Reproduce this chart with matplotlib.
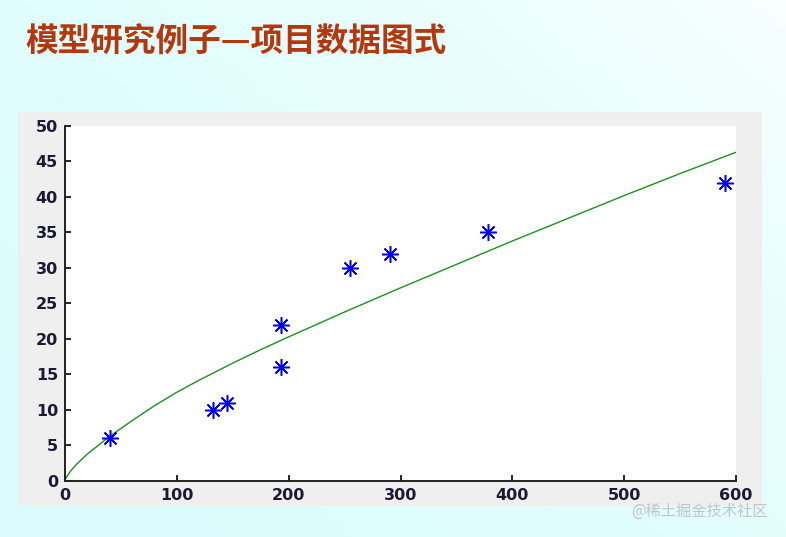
import numpy as np
import matplotlib.pyplot as plt

plt.rcParams['font.family'] = ['DejaVu Sans']

# project data points (size, effort)
pts_x = [40, 132, 145, 193, 193, 255, 291, 378, 590]
pts_y = [6, 10, 11, 22, 16, 30, 32, 35, 42]

# fitted curve
curve_x = [0, 2, 5, 10, 20, 40, 60, 80, 100, 120, 150, 175, 200, 250, 300, 350, 400, 450, 500, 550, 600]
curve_y = [0.2, 0.7, 1.4, 2.3, 3.8, 6.3, 8.5, 10.6, 12.5, 14.2, 16.6, 18.5, 20.3, 23.8, 27.2, 30.5, 33.8, 37.0, 40.2, 43.3, 46.3]

x_ticks = [0, 100, 200, 300, 400, 500, 600]
y_ticks = [0, 5, 10, 15, 20, 25, 30, 35, 40, 45, 50]

title = '模型研究例子—项目数据图式'

fig = plt.figure(figsize=(7.86, 5.37), dpi=100)

# slide background, light cyan fading to white at top right
bg = fig.add_axes([0, 0, 1, 1], zorder=-10)
gx, gy = np.meshgrid(np.linspace(0, 1, 200), np.linspace(0, 1, 200))
shade = np.clip(0.55 * gx + 0.45 * (1 - gy), 0, 1)
c1 = np.array([0.86, 0.99, 0.99])
c2 = np.array([0.97, 1.0, 1.0])
img = c1 + (c2 - c1) * shade[..., None] ** 2
bg.imshow(img, aspect='auto', extent=[0, 1, 0, 1], origin='upper')
bg.axis('off')

# grey figure panel
panel = fig.add_axes([0.0229, 0.0577, 0.9466, 0.7337], zorder=-5)
panel.set_facecolor('#efefef')
panel.set_xticks([])
panel.set_yticks([])
for s in panel.spines.values():
    s.set_visible(False)

fig.text(0.032, 0.922, title, family=['Noto Sans CJK SC', 'DejaVu Sans'],
         fontsize=23.5, fontweight='black', color='#b4380e', va='center', ha='left')

ax = fig.add_axes([0.0827, 0.1043, 0.8537, 0.6611])
ax.set_facecolor('white')
ax.plot(curve_x, curve_y, color='#1f8f1f', lw=1.0)
ax.plot(pts_x, pts_y, linestyle='none', marker=(8, 2, 0), ms=12, mew=1.1,
        color='#0000ee')

ax.set_xlim(0, 600)
ax.set_ylim(0, 50)
ax.set_xticks(x_ticks)
ax.set_yticks(y_ticks)
ax.tick_params(direction='in', length=4, width=1.2, labelsize=11.5,
               labelcolor='#1a1a33', pad=5)
for lab in ax.get_xticklabels() + ax.get_yticklabels():
    lab.set_fontweight('bold')
ax.spines['top'].set_visible(False)
ax.spines['right'].set_visible(False)
for s in ['left', 'bottom']:
    ax.spines[s].set_linewidth(1.4)
    ax.spines[s].set_color('#222222')

fig.text(0.977, 0.048, '@稀土掘金技术社区', family=['Noto Sans CJK SC', 'DejaVu Sans'],
         fontsize=11, color='#c4c4c4', ha='right', va='center')

fig.savefig('out.png', dpi=100)
